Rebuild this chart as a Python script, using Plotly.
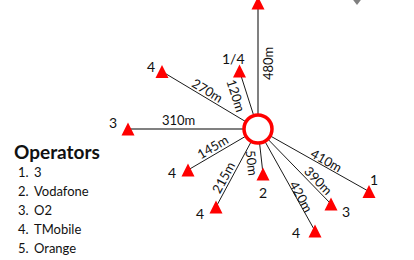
import math
import plotly.graph_objects as go

# ---- data ----
operators = ["5", "1/4", "4", "3", "4", "4", "2", "4", "3", "1"]
distances = ["480m", "120m", "270m", "310m", "145m", "215m", "50m", "420m", "390m", "410m"]
site_x = [0, -18.5, -96, -130, -70, -42, 5, 57, 73, 111]
site_y = [126, 58, 57.5, 0, -41, -78, -45, -102, -75, -62.5]
legend_numbers = ["1.", "2.", "3.", "4.", "5."]
legend_names = ["3", "Vodafone", "O2", "TMobile", "Orange"]

# ---- layout helpers (placement / style) ----
line_colors = ["#808080", "#1a1a1a", "#1a1a1a", "#808080", "#1a1a1a",
               "#1a1a1a", "#1a1a1a", "#1a1a1a", "#1a1a1a", "#1a1a1a"]
line_widths = [2, 1, 1, 2, 1, 1, 1, 1, 1, 1]
op_label_pos = [(12, 133), (-25, 71), (-107, 63), (-145, 7), (-86, -43),
                (-58, -84), (5, -63), (38, -103), (88, -82), (116, -50)]
dist_label_pos = [(10, 65), (-22, 34), (-51, 39), (-80, 9), (-46, -18),
                  (-35, -49), (-6, -34), (43, -67), (60, -51), (68, -31)]
TRI = 13  # triangle marker size (px); arrow-up tip sits at the marker point

FONT = "Lato"
fig = go.Figure()

for sx, sy, c, w in zip(site_x, site_y, line_colors, line_widths):
    fig.add_trace(go.Scatter(x=[0, sx], y=[0, sy], mode="lines",
                             line=dict(color=c, width=w),
                             hoverinfo="skip", showlegend=False))

fig.add_trace(go.Scatter(x=site_x, y=[v + TRI / 2 for v in site_y], mode="markers",
                         marker=dict(symbol="arrow-up", size=TRI, color="#FF0000",
                                     line=dict(width=0)),
                         hoverinfo="skip", showlegend=False))

# partially visible grey marker at top right
fig.add_trace(go.Scatter(x=[99], y=[129], mode="markers",
                         marker=dict(symbol="triangle-down", size=10, color="#7f7f7f"),
                         hoverinfo="skip", showlegend=False))

# central site
fig.add_trace(go.Scatter(x=[0], y=[0], mode="markers",
                         marker=dict(symbol="circle", size=28, color="white",
                                     line=dict(color="#FF0000", width=3.5)),
                         hoverinfo="skip", showlegend=False))

annotations = []
for op, (lx, ly) in zip(operators, op_label_pos):
    annotations.append(dict(x=lx, y=ly, text=op, showarrow=False,
                            xanchor="center", yanchor="middle",
                            font=dict(family=FONT, size=14, color="#111")))

for d, (tx, ty), sx, sy in zip(distances, dist_label_pos, site_x, site_y):
    ang = math.degrees(math.atan2(-sy, sx))
    if ang > 90:
        ang -= 180
    elif ang <= -90:
        ang += 180
    if abs(sx) < 1e-9:
        ang = -90
    annotations.append(dict(x=tx, y=ty, text=d, showarrow=False, textangle=ang,
                            xanchor="center", yanchor="middle",
                            font=dict(family=FONT, size=13, color="#111")))

annotations.append(dict(x=-246, y=-22, text="<b>Operators</b>", showarrow=False,
                        xanchor="left", yanchor="middle",
                        font=dict(family=FONT, size=19, color="#111")))
row_y = [-43, -62, -81, -100, -119]
for n, name, yy in zip(legend_numbers, legend_names, row_y):
    annotations.append(dict(x=-242, y=yy, text=n, showarrow=False,
                            xanchor="left", yanchor="middle",
                            font=dict(family=FONT, size=13, color="#111")))
    annotations.append(dict(x=-226, y=yy, text=name, showarrow=False,
                            xanchor="left", yanchor="middle",
                            font=dict(family=FONT, size=13, color="#111")))

fig.update_layout(
    width=414, height=260,
    margin=dict(l=0, r=0, t=0, b=0),
    paper_bgcolor="white", plot_bgcolor="white",
    xaxis=dict(range=[-258, 156], visible=False, fixedrange=True),
    yaxis=dict(range=[-131, 129], visible=False, fixedrange=True),
    annotations=annotations,
    showlegend=False,
)

fig.write_html("out.html", config={"displayModeBar": False},
               post_script="document.body.style.margin='0';document.body.style.overflow='hidden';")
